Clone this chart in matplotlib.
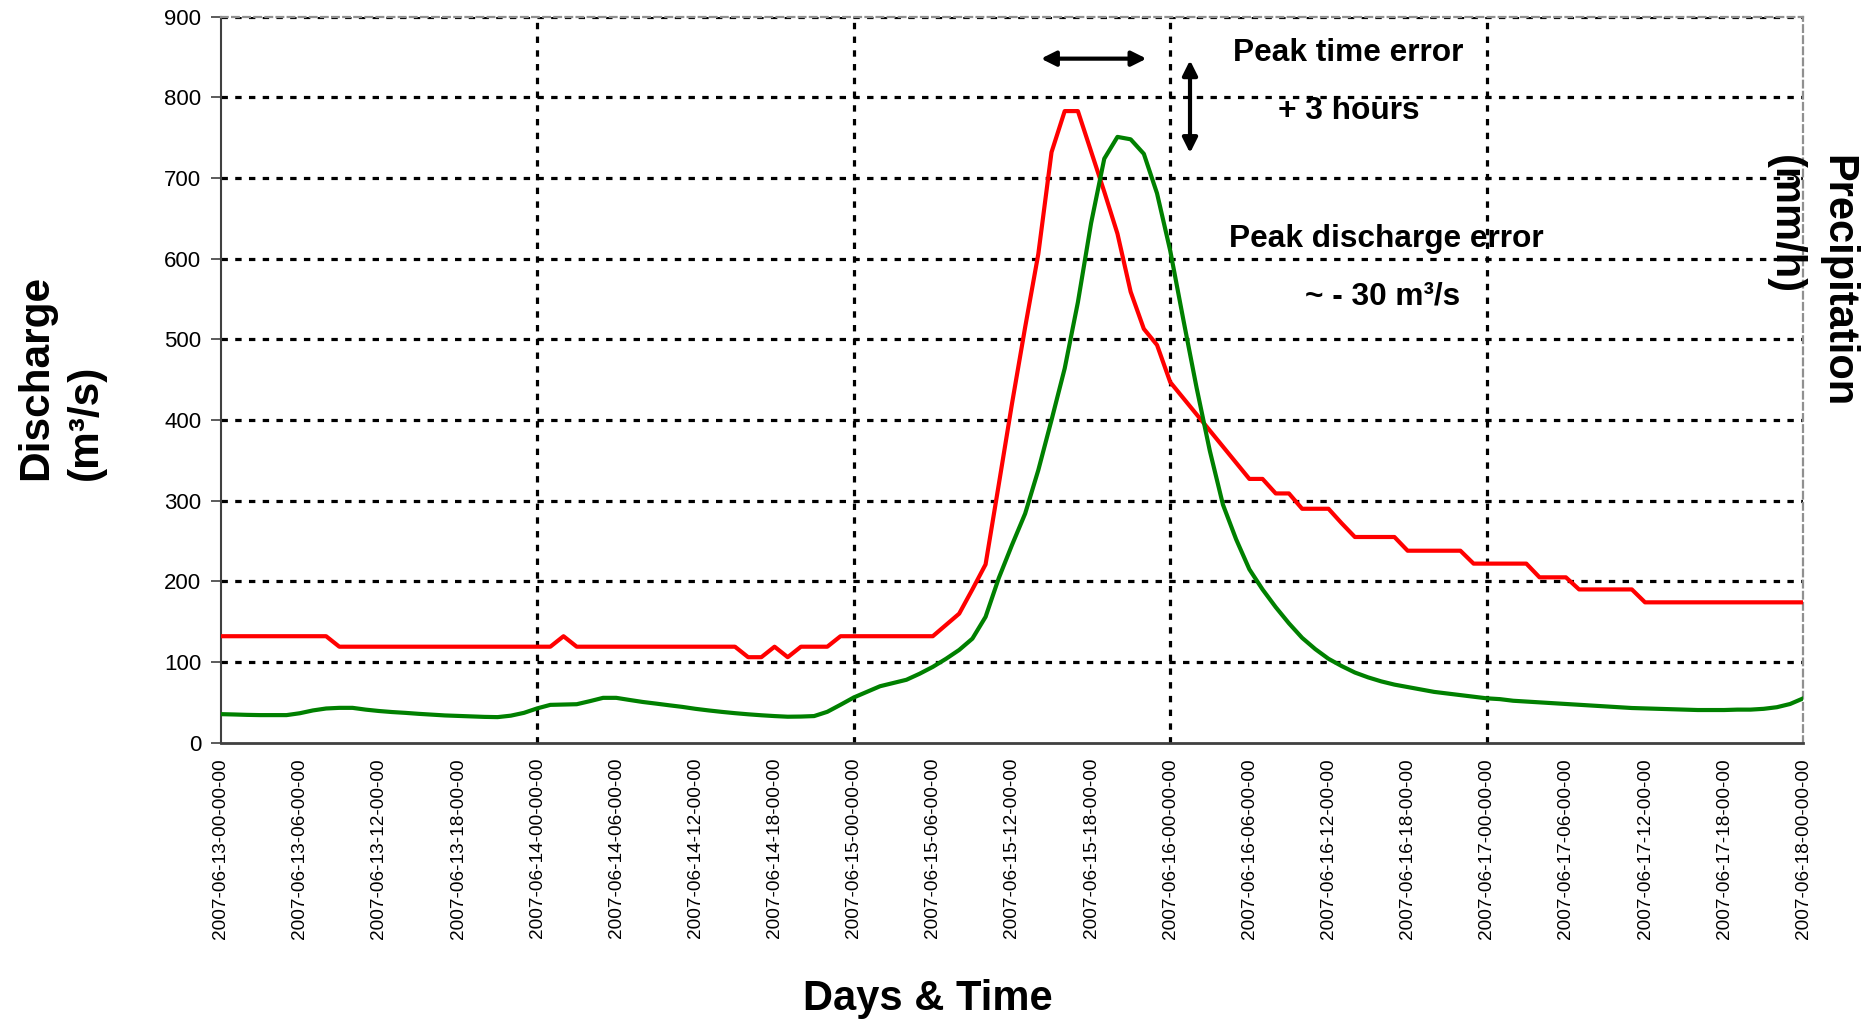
import numpy as np
import pandas as pd
import matplotlib
matplotlib.use("Agg")
import matplotlib.pyplot as plt
from matplotlib.ticker import MultipleLocator

plt.rcParams['font.family'] = ['Liberation Sans', 'DejaVu Sans']

# hourly series, 2007-06-13 00:00 -> 2007-06-18 00:00
start = pd.Timestamp('2007-06-13 00:00')
tick_times = pd.date_range('2007-06-13', '2007-06-18', freq='6h')
tick_labels = list(tick_times.strftime('%Y-%m-%d-%H-%M-%S'))

q_red = [132, 132, 132, 132, 132, 132, 132, 132, 132,
         119, 119, 119, 119, 119, 119, 119, 119, 119, 119, 119, 119, 119, 119, 119, 119, 119,
         132,
         119, 119, 119, 119, 119, 119, 119, 119, 119, 119, 119, 119, 119,
         106, 106, 119, 106, 119, 119, 119,
         132, 132, 132, 132, 132, 132, 132, 132,
         146, 160, 190, 221, 320, 420, 515, 606, 732, 783, 783, 733, 683, 631, 559, 513,
         493, 447, 427, 407, 387, 367, 347, 327, 327, 309, 309, 290, 290, 290, 272,
         255, 255, 255, 255,
         238, 238, 238, 238, 238,
         222, 222, 222, 222, 222,
         205, 205, 205,
         190, 190, 190, 190, 190,
         174, 174, 174, 174, 174, 174, 174, 174, 174, 174, 174, 174, 174]

q_green = [35.4, 35.0, 34.5, 34.2, 34.2, 34.2, 36.5, 40.0, 42.4, 43.2, 43.2, 41.0,
           39.3, 38.0, 37.0, 35.8, 34.8, 33.8, 33.2, 32.6, 32.0, 31.7, 33.5, 37.0,
           42.5, 46.9, 47.3, 47.7, 51.5, 55.6, 55.6, 53.0, 50.5, 48.5, 46.4, 44.4,
           42.0, 40.0, 38.2, 36.6, 35.2, 34.0, 33.0, 32.2, 32.4, 33.0, 38.3, 47.0,
           56, 63, 70, 74, 78, 85.5, 94, 104, 115, 129, 156, 204,
           245, 284, 338, 400, 464, 546, 644, 724, 751, 748, 730, 681,
           610, 524, 440, 362, 295, 252, 215, 190, 168, 148, 130, 116,
           104, 95, 87, 81, 76, 72, 69, 66, 63, 61, 59, 57,
           55, 54, 52, 51, 50, 49, 48, 47, 46, 45, 44, 43,
           42.5, 42, 41.5, 41, 40.5, 40.5, 40.5, 41, 41, 42, 44, 48,
           55]

hours = np.arange(len(q_red))
tick_hours = (tick_times - start) / pd.Timedelta('1h')

fig = plt.figure(figsize=(18.7, 10.24), dpi=100)
ax = fig.add_axes([0.11797, 0.27471, 0.84636, 0.70898])

ax.plot(hours, q_red, color='#FF0000', lw=3, zorder=3)
ax.plot(hours, q_green, color='#008000', lw=3, zorder=3)

ax.set_xlim(0, 120)
ax.set_ylim(0, 900)
ax.yaxis.set_major_locator(MultipleLocator(100))
ax.set_xticks(tick_hours)
ax.set_xticklabels(tick_labels, rotation=90, fontsize=13.7)
ax.xaxis.set_minor_locator(MultipleLocator(24))
ax.tick_params(axis='x', which='major', length=0, pad=11)
ax.tick_params(axis='x', which='minor', length=6, width=1.2, color='#404040')
ax.tick_params(axis='y', length=7, width=1.2, labelsize=16, pad=7, color='#404040')

# grid: dotted black, vertical only on day boundaries
for v in range(100, 1000, 100):
    ax.axhline(v, color='black', lw=2.3, dashes=(2.0, 2.3), zorder=1)
for d in range(24, 120, 24):
    ax.axvline(d, color='black', lw=2.3, dashes=(2.0, 2.3), zorder=1)

for s in ['left', 'bottom']:
    ax.spines[s].set_color('#404040')
    ax.spines[s].set_linewidth(1.5)
ax.spines['bottom'].set_linewidth(2.0)
for s in ['top', 'right']:
    ax.spines[s].set_color('#909090')
    ax.spines[s].set_linewidth(1.6)
    ax.spines[s].set_linestyle((0, (3, 2)))

# axis titles
fig.text(36 / 1870, 1 - 480 / 1024, 'Discharge', rotation=90, fontsize=30.5,
         fontweight='bold', ha='center', va='bottom')
fig.text(86 / 1870, 1 - 480 / 1024, '(m³/s)', rotation=90, fontsize=30.5,
         fontweight='bold', ha='center', va='bottom')
fig.text(1837 / 1870, 1 - 155 / 1024, 'Precipitation', rotation=270, fontsize=30,
         fontweight='bold', ha='center', va='top')
fig.text(1785 / 1870, 1 - 155 / 1024, '(mm/h)', rotation=270, fontsize=30,
         fontweight='bold', ha='center', va='top')
fig.text(928 / 1870, 1 - 999 / 1024, 'Days & Time', fontsize=30,
         fontweight='bold', ha='center', va='center')

# annotations
ax.text(85.5, 855, 'Peak time error', fontsize=22.8, fontweight='bold',
        ha='center', va='center')
ax.text(85.5, 783, '+ 3 hours', fontsize=22.8, fontweight='bold',
        ha='center', va='center')
ax.text(88.4, 625, 'Peak discharge error', fontsize=22.8, fontweight='bold',
        ha='center', va='center')
ax.text(88.1, 553, '~ - 30 m³/s', fontsize=22.8, fontweight='bold',
        ha='center', va='center')
ax.annotate('', xy=(62.2, 848), xytext=(70.2, 848),
            arrowprops=dict(arrowstyle='<|-|>', color='black', lw=3,
                            mutation_scale=22, shrinkA=0, shrinkB=0))
ax.annotate('', xy=(73.5, 846), xytext=(73.5, 731),
            arrowprops=dict(arrowstyle='<|-|>', color='black', lw=3,
                            mutation_scale=22, shrinkA=0, shrinkB=0))

fig.savefig('out.png', dpi=100)
